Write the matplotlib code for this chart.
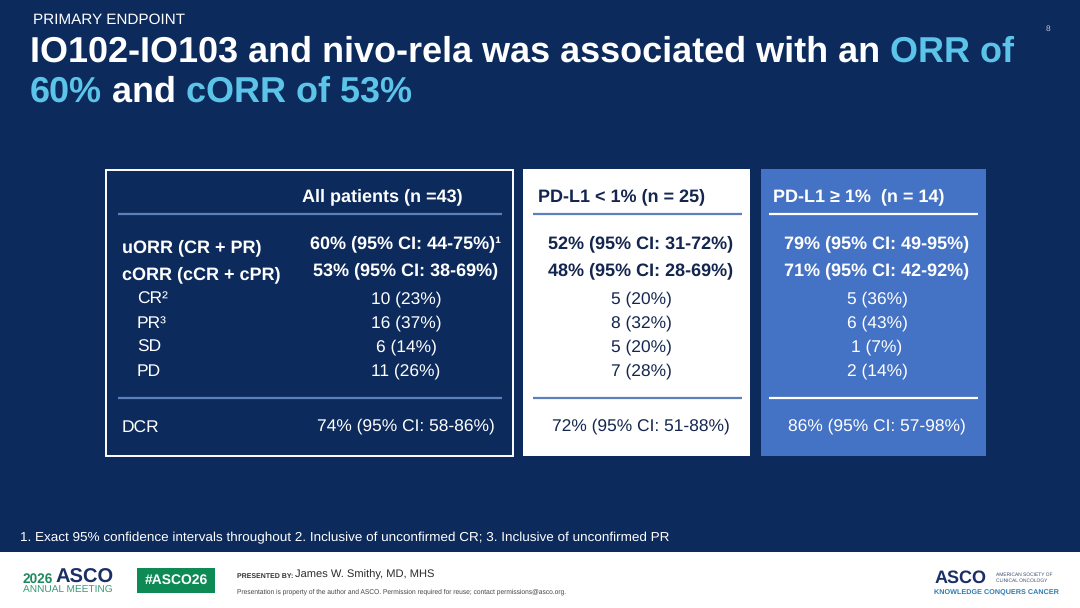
import matplotlib
matplotlib.use("Agg")
import matplotlib.pyplot as plt
from matplotlib.patches import Rectangle

plt.rcParams['font.family'] = ['Liberation Sans', 'DejaVu Sans']
plt.rcParams['text.hinting'] = 'no_hinting'

# ---------------- data ----------------
group_headers = ["All patients (n =43)", "PD-L1 < 1% (n = 25)", "PD-L1 \u2265 1%  (n = 14)"]
row_labels = ["uORR (CR + PR)", "cORR (cCR + cPR)", "CR\u00b2", "PR\u00b3", "SD", "PD", "DCR"]
uorr_pct = [60, 52, 79]
uorr_ci = [(44, 75), (31, 72), (49, 95)]
corr_pct = [53, 48, 71]
corr_ci = [(38, 69), (28, 69), (42, 92)]
cr_n = [10, 5, 5]
cr_pct = [23, 20, 36]
pr_n = [16, 8, 6]
pr_pct = [37, 32, 43]
sd_n = [6, 5, 1]
sd_pct = [14, 20, 7]
pd_n = [11, 7, 2]
pd_pct = [26, 28, 14]
dcr_pct = [74, 72, 86]
dcr_ci = [(58, 86), (51, 88), (57, 98)]

section_label = "PRIMARY ENDPOINT"
title_line1 = [("IO102-IO103 and nivo-rela was associated with an ", "w"), ("ORR of", "a")]
title_line2 = [("60%", "a"), (" and ", "w"), ("cORR of 53%", "a")]
footnote = ("1. Exact 95% confidence intervals throughout 2. Inclusive of unconfirmed CR; "
            "3. Inclusive of unconfirmed PR")
presenter = "James W. Smithy, MD, MHS"
fine_print = ("Presentation is property of the author and ASCO. Permission required for reuse; "
              "contact permissions@asco.org.")


def rate(p, ci):
    return f"{p}% (95% CI: {ci[0]}-{ci[1]}%)"


def count(n, p):
    return f"{n} ({p}%)"


# ---------------- style ----------------
NAVY = "#0c2a5c"
ACCENT = "#5bc4e8"
PANEL_BLUE = "#4472c4"
RULE = "#5b80ba"
MID_TEXT = "#14264f"
GREEN = "#0e8a55"

fig = plt.figure(figsize=(10.8, 6.08), dpi=100, facecolor=NAVY)
ax = fig.add_axes([0, 0, 1, 1])
ax.set_xlim(0, 1080)
ax.set_ylim(608, 0)
ax.axis('off')
ax.set_facecolor(NAVY)
renderer = fig.canvas.get_renderer()


def width_of(s, **kw):
    t = ax.text(0, 0, s, **kw)
    w = t.get_window_extent(renderer).width
    t.remove()
    return w


def rich_line(x0, y, segments, **kw):
    prefix = ""
    for seg, c in segments:
        col = "white" if c == "w" else ACCENT
        if prefix:
            ch = seg[0]
            x = x0 + width_of(prefix + ch, **kw) - width_of(ch, **kw)
        else:
            x = x0
        ax.text(x, y, seg, color=col, ha='left', va='baseline', **kw)
        prefix += seg


# header texts
ax.text(33, 24, section_label, color="white", fontsize=11, ha='left', va='baseline')
ax.text(1046, 31, "8", color="#c0c8d8", fontsize=6, ha='left', va='baseline')
title_kw = dict(fontsize=25.9, fontweight='bold')
rich_line(30, 62, title_line1, **title_kw)
rich_line(30, 102, title_line2, **title_kw)

# table panels
ax.add_patch(Rectangle((106, 170), 407, 286, fc=NAVY, ec="white", lw=1.4))
ax.add_patch(Rectangle((523, 169), 227, 287, fc="white", ec="none"))
ax.add_patch(Rectangle((760.5, 169), 225.5, 287, fc=PANEL_BLUE, ec="none"))

col_center = [406, 641, 877]
hdr_x = [302, 538, 773]
rule_x = [(118, 502), (533, 742), (769, 978)]
rule_col = [RULE, RULE, "white"]
text_col = ["white", MID_TEXT, "white"]

value_base = [248, 275, 303, 327, 351, 375, 430]
label_base = [252, 279, 304, 328, 352, 376, 433]
label_x = [122, 122, 137, 137, 137, 137, 122]
bold_rows = [True, True, False, False, False, False, False]

BOLD_FS = 13
REG_FS = 12.5

for i in range(3):
    ax.text(hdr_x[i], 201, group_headers[i], color=text_col[i], fontsize=BOLD_FS,
            fontweight='bold', ha='left', va='baseline')
    for yy in (214, 398):
        ax.plot(rule_x[i], [yy, yy], color=rule_col[i], lw=1.6, solid_capstyle='butt')
    vals = [rate(uorr_pct[i], uorr_ci[i]) + ("\u00b9" if i == 0 else ""),
            rate(corr_pct[i], corr_ci[i]),
            count(cr_n[i], cr_pct[i]),
            count(pr_n[i], pr_pct[i]),
            count(sd_n[i], sd_pct[i]),
            count(pd_n[i], pd_pct[i]),
            rate(dcr_pct[i], dcr_ci[i])]
    for r, v in enumerate(vals):
        ax.text(col_center[i], value_base[r], v, color=text_col[i],
                fontsize=BOLD_FS if bold_rows[r] else REG_FS,
                fontweight='bold' if bold_rows[r] else 'normal',
                ha='center', va='baseline')

for r, lab in enumerate(row_labels):
    ax.text(label_x[r], label_base[r], lab, color="white",
            fontsize=BOLD_FS if bold_rows[r] else REG_FS,
            fontweight='bold' if bold_rows[r] else 'normal',
            ha='left', va='baseline')

# footnote
ax.text(20, 541, footnote, color="white", fontsize=9.7, ha='left', va='baseline')

# footer
ax.add_patch(Rectangle((0, 552), 1080, 56, fc="white", ec="none"))
ax.text(23, 583, "2026", color="#1f8a5f", fontsize=9.8, fontweight='bold', ha='left', va='baseline')
ax.text(55, 583, "ASCO", color="#1b2f66", fontsize=14.5, fontweight='bold', ha='left', va='baseline')
ax.text(23, 593, "ANNUAL MEETING", color="#3a9a78", fontsize=7.3, ha='left', va='baseline')
ax.add_patch(Rectangle((137, 568), 78, 25, fc=GREEN, ec="none"))
ax.text(176, 580.5, "#ASCO26", color="white", fontsize=10, fontweight='bold', ha='center', va='center')
ax.text(237, 578, "PRESENTED BY:", color="#333333", fontsize=5, fontweight='bold', ha='left', va='baseline')
ax.text(295, 578, presenter, color="#2b2b2b", fontsize=8, ha='left', va='baseline')
ax.text(237, 594, fine_print, color="#444444", fontsize=4.8, ha='left', va='baseline')
ax.text(935, 583, "ASCO", color="#1b2f66", fontsize=13, fontweight='bold', ha='left', va='baseline')
ax.text(996, 576, "AMERICAN SOCIETY OF", color="#3a4a6a", fontsize=3.5, ha='left', va='baseline')
ax.text(996, 582, "CLINICAL ONCOLOGY", color="#3a4a6a", fontsize=3.5, ha='left', va='baseline')
ax.text(934, 595, "KNOWLEDGE CONQUERS CANCER", color="#2d7db3", fontsize=5.2, fontweight='bold',
        ha='left', va='baseline')

fig.savefig("out.png", dpi=100, facecolor=NAVY)
